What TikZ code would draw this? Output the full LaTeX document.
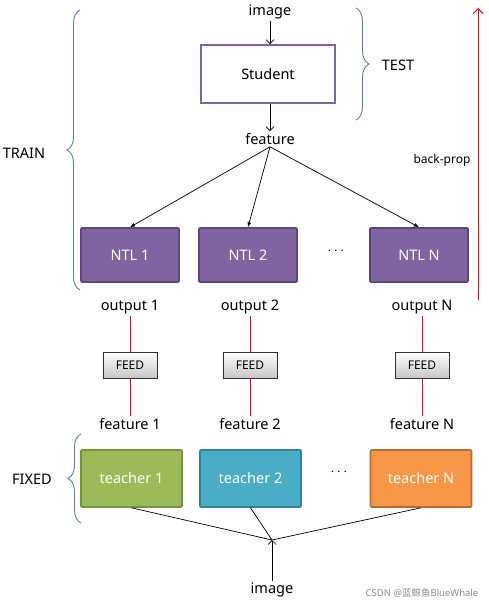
\documentclass[tikz,border=0pt]{standalone}
\usepackage{xcolor}
\usepackage{fontspec}
\setmainfont{Noto Sans}
\newfontfamily\cjkfont{Noto Sans CJK SC}
\usetikzlibrary{arrows.meta,positioning,shapes.geometric,calc,decorations.pathreplacing,shadows}
\definecolor{ntlpurple}{HTML}{8064A2}
\definecolor{ntlborder}{HTML}{5C4776}
\definecolor{tgreen}{HTML}{9BBB59}
\definecolor{tgreenborder}{HTML}{76923C}
\definecolor{tblue}{HTML}{4BACC6}
\definecolor{tblueborder}{HTML}{31849B}
\definecolor{torange}{HTML}{F79646}
\definecolor{torangeborder}{HTML}{B66D31}
\definecolor{braceblue}{HTML}{4F81BD}

\begin{document}
\begin{tikzpicture}[
    x=1pt, y=-1pt,
    font=\fontsize{14.5}{17}\selectfont,
    box/.style={rounded corners=1pt, minimum height=54pt, align=center, text=white, line width=1.6pt},
    ntl/.style={box, draw=ntlborder, fill=ntlpurple, minimum width=98pt},
    teacher/.style={box, minimum width=101pt, minimum height=57pt},
    feed/.style={draw=black!80, line width=0.8pt, top color=white, bottom color=black!22, minimum width=54pt, minimum height=26pt, inner sep=0pt, font=\fontsize{12}{14}\selectfont, drop shadow={shadow xshift=1.2pt, shadow yshift=-1.2pt, opacity=0.35}},
    txt/.style={inner sep=2pt},
    arrow/.style={-{Latex[length=5pt, width=4pt]}, line width=0.7pt},
    redline/.style={draw=red, line width=0.8pt},
    brace/.style={draw=braceblue, line width=0.9pt, decorate, decoration={brace, amplitude=13pt}}
]
\useasboundingbox (0,0) rectangle (489,607);

% student branch
\node[txt] (imgtop) at (270,12) {image};
\node[draw=ntlpurple, line width=1.6pt, minimum width=134pt, minimum height=58pt] (student) at (268,74) {Student};
\node[txt] (feat) at (270,139) {feature};
\draw[arrow, -{Straight Barb[length=4pt]}] (imgtop) -- (student.north -| imgtop);
\draw[arrow, -{Straight Barb[length=4pt]}] (student.south -| feat) -- (feat);

% NTL heads
\node[ntl] (ntl1) at (130,255) {NTL 1};
\node[ntl] (ntl2) at (248,255) {NTL 2};
\node[ntl] (ntln) at (419,255) {NTL N};
\node (dots1) at (336,251) {$\cdots$};
\draw[arrow] (feat.south) -- (ntl1.north);
\draw[arrow] (feat.south) -- (ntl2.north);
\draw[arrow] (feat.south) -- (ntln.north);

% outputs and feed
\node[txt] (out1) at (130,307) {output 1};
\node[txt] (out2) at (250,307) {output 2};
\node[txt] (outn) at (422,307) {output N};
\node[feed] (feed1) at (130,365) {FEED};
\node[feed] (feed2) at (250,365) {FEED};
\node[feed] (feedn) at (422,365) {FEED};
\node[txt] (tf1) at (130,424) {feature 1};
\node[txt] (tf2) at (250,424) {feature 2};
\node[txt] (tfn) at (422,424) {feature N};
\draw[redline] (out1.south) -- (feed1.north);
\draw[redline] (feed1.south) -- (tf1.north);
\draw[redline] (out2.south) -- (feed2.north);
\draw[redline] (feed2.south) -- (tf2.north);
\draw[redline] (outn.south) -- (feedn.north);
\draw[redline] (feedn.south) -- (tfn.north);

% teachers
\node[teacher, draw=tgreenborder, fill=tgreen] (t1) at (131.5,478.5) {teacher 1};
\node[teacher, draw=tblueborder, fill=tblue] (t2) at (250.5,478.5) {teacher 2};
\node[teacher, draw=torangeborder, fill=torange] (tn) at (421,478.5) {teacher N};
\node (dots2) at (339,472) {$\cdots$};
\coordinate (join) at (272,540);
\node[txt] (imgbot) at (272,590) {image};
\draw[line width=0.7pt] (t1.south) -- (join);
\draw[line width=0.7pt] (t2.south) -- (join);
\draw[line width=0.7pt] (tn.south) -- (join);
\draw[arrow, -{Straight Barb[length=4pt]}] (imgbot) -- (join);

% braces
\draw[brace] (80,290) -- (80,10);
\node[txt] (train) at (24,153) {TRAIN};
\draw[brace] (356,8) -- (356,120);
\node[txt] (test) at (398,65) {TEST};
\draw[brace] (81,523) -- (81,434);
\node[txt] (fixed) at (32,479) {FIXED};

% back-prop
\coordinate (bpstart) at (478,300);
\coordinate (bpend) at (478,8);
\draw[draw=red, line width=0.9pt, -{Straight Barb[length=5pt]}] (bpstart) -- (bpend);
\node[txt, font=\fontsize{12}{14}\selectfont] (bp) at (442,160) {back-prop};

\node[text=black!45, font=\fontsize{9.5}{11}\selectfont] (mark) at (422,593) {CSDN @{\cjkfont 蓝鲸鱼}BlueWhale};
\end{tikzpicture}
\end{document}
